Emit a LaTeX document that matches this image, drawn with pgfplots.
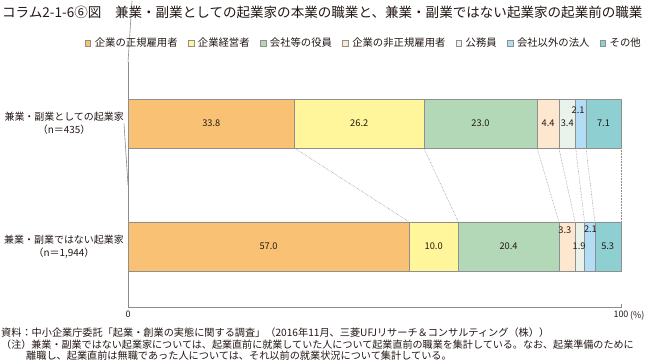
\documentclass[border=0pt]{standalone}
\usepackage{pgfplots}
\pgfplotsset{compat=1.18}
\usepackage{fontspec}
\setmainfont{Noto Sans CJK JP}
\definecolor{c1}{HTML}{F8C173}
\definecolor{c2}{HTML}{FFF59A}
\definecolor{c3}{HTML}{B3D8B8}
\definecolor{c4}{HTML}{FDE8CF}
\definecolor{c5}{HTML}{EAF3EB}
\definecolor{c6}{HTML}{B3DDF5}
\definecolor{c7}{HTML}{8ECFD1}
\definecolor{axgray}{HTML}{8C8C8C}
\definecolor{bgray}{HTML}{8F8F8F}
\definecolor{txt}{HTML}{231815}
\begin{document}
\begin{tikzpicture}
\path[use as bounding box] (0,0) rectangle (649bp,364bp);
\pgfplotsset{base/.style={at={(128bp,56.3bp)},anchor=south west,scale only axis,
  width=493bp,height=245.4bp,xmin=0,xmax=100,ymin=-0.5,ymax=1.5,clip=false}}
\begin{axis}[base, xbar stacked, bar width=0.4,
  axis lines*=left, axis line style={draw=axgray, line width=0.6bp},
  xtick={0,100}, xticklabels={0,100},
  x tick label style={font=\fontsize{9}{10}\selectfont, text=txt},
  tick align=inside, major tick length=4bp, tick style={axgray, line width=0.6bp},
  ytick=\empty,
  every axis plot/.append style={draw=bgray, line width=0.45bp},
  legend columns=7,
  legend style={draw=none, fill=none, at={(1.0406,1.0787)}, anchor=east,
    font=\fontsize{10.4}{11}\selectfont, text=txt, inner sep=0pt,
    nodes={inner sep=0pt, anchor=west},
    /tikz/every odd column/.append style={column sep=4bp},
    /tikz/every even column/.append style={column sep=10bp}},
  legend image code/.code={\draw[#1, draw=bgray, line width=0.4bp] (0bp,-2.9bp) rectangle (5.8bp,2.9bp);},
]
\addplot[fill=c1] coordinates {(33.8,1) (57.0,0)};
\addplot[fill=c2] coordinates {(26.2,1) (10.0,0)};
\addplot[fill=c3] coordinates {(23.0,1) (20.4,0)};
\addplot[fill=c4] coordinates {(4.4,1) (3.3,0)};
\addplot[fill=c5] coordinates {(3.4,1) (1.9,0)};
\addplot[fill=c6] coordinates {(2.1,1) (2.1,0)};
\addplot[fill=c7] coordinates {(7.1,1) (5.3,0)};
\legend{企業の正規雇用者,企業経営者,会社等の役員,企業の非正規雇用者,公務員,会社以外の法人,その他}
\draw[axgray, line width=0.6bp] (axis cs:0,0.5) -- ++(-4bp,0);
\draw[axgray, line width=0.6bp] (axis cs:0,1.5) -- ++(4bp,0);
\end{axis}
\begin{axis}[base, hide axis]
\foreach \a/\b in {33.8/57.0, 60.0/67.0, 83.0/87.4, 87.4/90.7, 90.8/92.6, 92.9/94.7, 100/100}{
  \edef\temp{\noexpand\addplot[densely dotted, color=axgray, line width=0.55bp, no marks] coordinates {(\a,0.8) (\b,0.2)};}
  \temp
}
\begin{scope}[every node/.style={font=\fontsize{9.3}{10}\selectfont, text=txt, inner sep=0pt}]
\node at (axis cs:16.9,1) {33.8};
\node at (axis cs:46.9,1) {26.2};
\node at (axis cs:71.5,1) {23.0};
\node at (axis cs:85.2,1) {4.4};
\node at (axis cs:89.1,1) {3.4};
\node at (axis cs:91.3,1.11) {2.1};
\node at (axis cs:96.45,1) {7.1};
\node at (axis cs:28.5,0) {57.0};
\node at (axis cs:62.0,0) {10.0};
\node at (axis cs:77.2,0) {20.4};
\node at (axis cs:88.6,0.133) {3.3};
\node at (axis cs:91.5,0.0) {1.9};
\node at (axis cs:93.8,0.139) {2.1};
\node at (axis cs:97.3,0) {5.3};
\end{scope}
\begin{scope}[every node/.style={font=\fontsize{10}{13}\selectfont, text=txt, align=center, anchor=east, inner sep=0pt}]
\node at ([xshift=-4bp]axis cs:0,1) {兼業・副業としての起業家\\（n＝435）};
\node at ([xshift=-4bp]axis cs:0,0) {兼業・副業ではない起業家\\（n＝1,944）};
\end{scope}
\end{axis}
\node[anchor=west, font=\fontsize{9}{10}\selectfont, text=txt, inner sep=0pt] at (630bp,48bp) {(\%)};
\node[anchor=west, font=\fontsize{13.6}{14}\selectfont, text=txt, inner sep=0pt] at (2bp,352bp) {コラム2-1-6⑥図　兼業・副業としての起業家の本業の職業と、兼業・副業ではない起業家の起業前の職業};
\begin{scope}[every node/.style={anchor=west, text=txt, inner sep=0pt}]
\node[font=\fontsize{10.2}{11}\selectfont] at (1bp,31bp) {資料：中小企業庁委託「起業・創業の実態に関する調査」（2016年11月、三菱UFJリサーチ＆コンサルティング（株））};
\node[font=\fontsize{10.1}{11}\selectfont] at (1bp,19bp) {（注）兼業・副業ではない起業家については、起業直前に就業していた人について起業直前の職業を集計している。なお、起業準備のために};
\node[font=\fontsize{10.2}{11}\selectfont] at (26bp,8bp) {離職し、起業直前は無職であった人については、それ以前の就業状況について集計している。};
\end{scope}
\end{tikzpicture}
\end{document}
